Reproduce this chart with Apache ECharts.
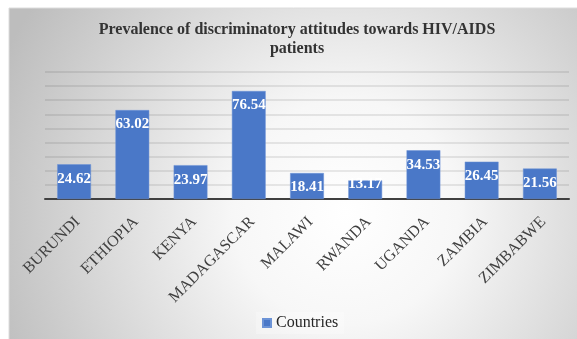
<!DOCTYPE html>
<html>
<head>
<meta charset="utf-8">
<script src="https://cdn.jsdelivr.net/npm/echarts@6/dist/echarts.min.js"></script>
<style>html,body{margin:0;padding:0;background:#fff;}#c{width:577px;height:339px;}</style>
</head>
<body>
<div id="c"></div>
<script>
const categories = ['BURUNDI','ETHIOPIA','KENYA','MADAGASCAR','MALAWI','RWANDA','UGANDA','ZAMBIA','ZIMBABWE'];
const values = [24.62, 63.02, 23.97, 76.54, 18.41, 13.17, 34.53, 26.45, 21.56];
const seriesName = 'Countries';
const titleText = 'Prevalence of discriminatory attitudes towards HIV/AIDS\npatients';

const chart = echarts.init(document.getElementById('c'), null, {renderer:'canvas'});
const serif = 'Liberation Serif';
const data = values.map((v, i) => {
  const item = {value: v};
  if (categories[i] === 'RWANDA') item.label = {distance: -4};
  return item;
});
chart.setOption({
  animation: false,
  textStyle: {fontFamily: serif},
  graphic: [{
    type: 'rect', z: -100, silent: true,
    shape: {x: 9, y: 8, width: 580, height: 340},
    style: {
      fill: {type: 'radial', x: 0.58, y: 0.6, r: 1.1, colorStops: [
        {offset: 0, color: '#ffffff'}, {offset: 0.3, color: '#f7f7f7'}, {offset: 1, color: '#bdbdbd'}]},
      stroke: '#dcdcdc', lineWidth: 1
    }
  }],
  title: {
    text: titleText, left: 292, top: 15, textAlign: 'center',
    textStyle: {fontFamily: serif, fontWeight: 'bold', fontSize: 16, color: '#333333', lineHeight: 19}
  },
  legend: {
    data: [seriesName], left: 256, top: 312, icon: 'rect', itemWidth: 8, itemHeight: 8, itemGap: 5,
    backgroundColor: 'rgba(255,255,255,0.25)', padding: [3, 6, 3, 6],
    textStyle: {fontFamily: serif, fontSize: 16, color: '#262626'}
  },
  grid: {left: 45, right: 8, top: 72, bottom: 140, containLabel: false},
  xAxis: {
    type: 'category', data: categories,
    axisLine: {lineStyle: {color: '#404040', width: 2}},
    axisTick: {show: false},
    axisLabel: {rotate: 45, interval: 0, margin: 24, fontFamily: serif, fontSize: 16, color: '#404040', padding: [0, -5, 0, 0]}
  },
  yAxis: {
    type: 'value', min: 0, max: 90, interval: 10,
    axisLabel: {show: false}, axisLine: {show: false}, axisTick: {show: false},
    splitLine: {lineStyle: {color: 'rgba(0,0,0,0.11)', width: 1.5}}
  },
  series: [{
    name: seriesName, type: 'bar', data: data, barCategoryGap: '42%',
    itemStyle: {color: '#4a78c8', borderColor: '#6c93d6', borderWidth: 0.5},
    label: {show: true, position: 'insideTop', distance: 7, fontFamily: serif, fontWeight: 'bold', fontSize: 15, color: '#ffffff'}
  }]
});
</script>
</body>
</html>
